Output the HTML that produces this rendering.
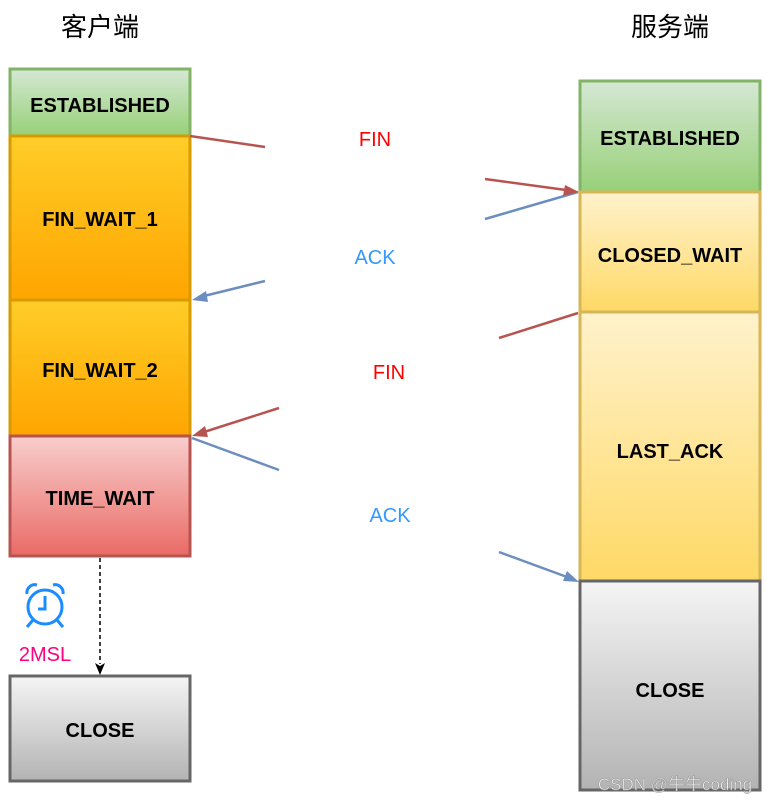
<!DOCTYPE html>
<html><head><meta charset="utf-8"><style>
html,body{margin:0;padding:0;background:#fff;}
svg{display:block}
</style></head><body>
<svg width="776" height="806" viewBox="0 0 776 806" xmlns="http://www.w3.org/2000/svg">
<defs>
<linearGradient id="g" x1="0" y1="0" x2="0" y2="1"><stop offset="0" stop-color="#d5e8d4"/><stop offset="1" stop-color="#97d077"/></linearGradient>
<linearGradient id="o" x1="0" y1="0" x2="0" y2="1"><stop offset="0" stop-color="#ffcd28"/><stop offset="1" stop-color="#ffa500"/></linearGradient>
<linearGradient id="p" x1="0" y1="0" x2="0" y2="1"><stop offset="0" stop-color="#f8cecc"/><stop offset="1" stop-color="#ea6b66"/></linearGradient>
<linearGradient id="y" x1="0" y1="0" x2="0" y2="1"><stop offset="0" stop-color="#fff2cc"/><stop offset="1" stop-color="#ffd966"/></linearGradient>
<linearGradient id="s" x1="0" y1="0" x2="0" y2="1"><stop offset="0" stop-color="#f5f5f5"/><stop offset="1" stop-color="#b3b3b3"/></linearGradient>
</defs>
<g font-family="Liberation Sans, sans-serif" font-size="26" text-anchor="middle" fill="#000">
<text x="100" y="36" font-family="Liberation Sans, Noto Sans CJK SC, sans-serif">客户端</text>
<text x="670" y="36" font-family="Liberation Sans, Noto Sans CJK SC, sans-serif">服务端</text>
</g>
<g stroke-width="3">
<rect x="10" y="69" width="180" height="67" fill="url(#g)" stroke="#82b366"/>
<rect x="10" y="136" width="180" height="164" fill="url(#o)" stroke="#d79b00"/>
<rect x="10" y="300" width="180" height="136" fill="url(#o)" stroke="#d79b00"/>
<rect x="10" y="436" width="180" height="120" fill="url(#p)" stroke="#b85450"/>
<rect x="10" y="676" width="180" height="105" fill="url(#s)" stroke="#666"/>
<rect x="580" y="81" width="180" height="111" fill="url(#g)" stroke="#82b366"/>
<rect x="580" y="192" width="180" height="120" fill="url(#y)" stroke="#d6b656"/>
<rect x="580" y="312" width="180" height="269" fill="url(#y)" stroke="#d6b656"/>
<rect x="580" y="581" width="180" height="209" fill="url(#s)" stroke="#666"/>
</g>
<g font-family="Liberation Sans, sans-serif" font-weight="bold" font-size="20" text-anchor="middle" fill="#000">
<text x="100" y="112">ESTABLISHED</text>
<text x="100" y="226">FIN_WAIT_1</text>
<text x="100" y="377">FIN_WAIT_2</text>
<text x="100" y="505">TIME_WAIT</text>
<text x="100" y="737">CLOSE</text>
<text x="670" y="145">ESTABLISHED</text>
<text x="670" y="262">CLOSED_WAIT</text>
<text x="670" y="458">LAST_ACK</text>
<text x="670" y="697">CLOSE</text>
</g>
<g stroke-width="2.5" fill="none">
<line x1="190" y1="136" x2="265" y2="147" stroke="#b85450"/>
<line x1="485" y1="179" x2="566" y2="190" stroke="#b85450"/>
<line x1="578" y1="192" x2="485" y2="219" stroke="#6c8ebf"/>
<line x1="265" y1="281" x2="204" y2="296" stroke="#6c8ebf"/>
<line x1="578" y1="313" x2="499" y2="338" stroke="#b85450"/>
<line x1="279" y1="408" x2="204" y2="432" stroke="#b85450"/>
<line x1="192" y1="438" x2="279" y2="470" stroke="#6c8ebf"/>
<line x1="499" y1="552" x2="567" y2="577" stroke="#6c8ebf"/>
</g>
<polygon points="579,192 563,196 565,185" fill="#b85450"/>
<polygon points="192,300 206,291 208,302" fill="#6c8ebf"/>
<polygon points="192,436 205,426 208,437" fill="#b85450"/>
<polygon points="579,582 563,581 567,571" fill="#6c8ebf"/>
<g font-family="Liberation Sans, sans-serif" font-size="20" text-anchor="middle">
<text x="375" y="146" fill="#ff0000">FIN</text>
<text x="375" y="264" fill="#3399ff">ACK</text>
<text x="389" y="379" fill="#ff0000">FIN</text>
<text x="390" y="522" fill="#3399ff">ACK</text>
<text x="45" y="661" fill="#ff0080">2MSL</text>
</g>
<line x1="100" y1="558" x2="100" y2="664" stroke="#000" stroke-width="1.5" stroke-dasharray="4,3"/>
<polygon points="100,675 95,663 100,666 105,663" fill="#000"/>
<g stroke="#1a8cff" stroke-width="3" fill="none">
<circle cx="45" cy="607" r="17"/>
<polyline points="45,596 45,609 38,609"/>
<path d="M27,594 a8,8 0 0 1 10,-9"/>
<path d="M53,585 a8,8 0 0 1 10,9"/>
<line x1="33" y1="620" x2="27" y2="627"/>
<line x1="57" y1="620" x2="63" y2="627"/>
</g>
<text x="675" y="790" font-family="Liberation Sans, Noto Sans CJK SC, sans-serif" font-size="17" fill="#ffffff" fill-opacity="0.85" stroke="#999" stroke-width="0.6" text-anchor="middle">CSDN @牛牛coding</text>
</svg>
</body></html>
